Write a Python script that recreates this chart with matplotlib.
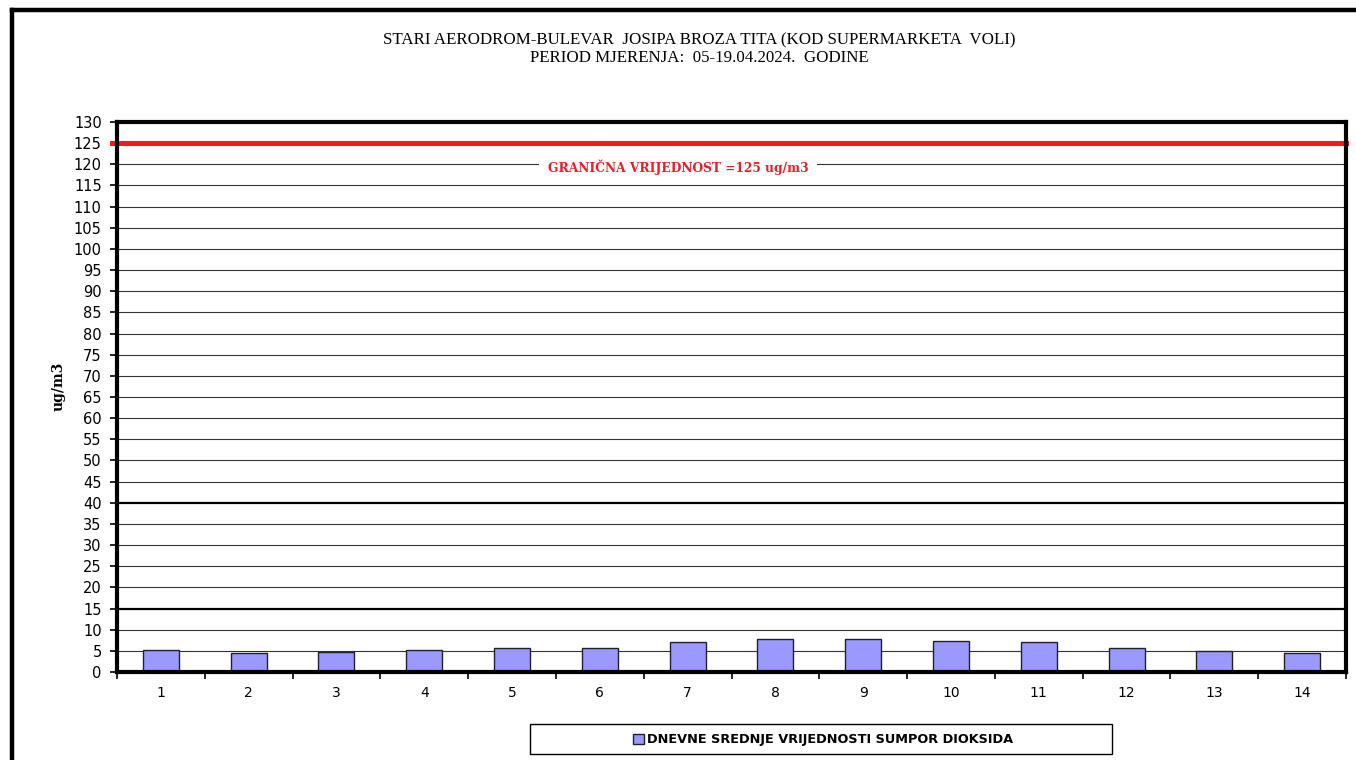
import matplotlib
matplotlib.use("Agg")
import matplotlib.pyplot as plt
from matplotlib.lines import Line2D
from matplotlib.patches import Patch, Rectangle
import numpy as np

days = list(range(1, 15))
so2_values = [5.3, 4.4, 4.8, 5.3, 5.6, 5.6, 7.0, 7.8, 7.8, 7.3, 7.0, 5.6, 5.0, 4.4]
limit_value = 125
y_ticks = list(range(0, 135, 5))
thick_grid = [15, 40]

title = ("STARI AERODROM-BULEVAR  JOSIPA BROZA TITA (KOD SUPERMARKETA  VOLI)\n"
         "PERIOD MJERENJA:  05-19.04.2024.  GODINE")
limit_label = "GRANIČNA VRIJEDNOST =125 ug/m3"
legend_label = "DNEVNE SREDNJE VRIJEDNOSTI SUMPOR DIOKSIDA"

W, H = 1356, 760
fig = plt.figure(figsize=(W / 100, H / 100), dpi=100)
fig.patch.set_facecolor("white")
ax = fig.add_axes([117 / W, 1 - 672 / H, 1229 / W, 550 / H])

# outer frame (only top and left edges visible)
fig.add_artist(Line2D([12 / W, 12 / W], [-0.05, 1 - 10 / H],
                      transform=fig.transFigure, color="black", lw=3.2))
fig.add_artist(Line2D([12 / W, 1.05], [1 - 10 / H, 1 - 10 / H],
                      transform=fig.transFigure, color="black", lw=3.2))

# gridlines
for v in y_ticks[1:-1]:
    if v in thick_grid:
        ax.axhline(v, color="black", lw=1.6, zorder=1)
    elif v != limit_value:
        ax.axhline(v, color="#333333", lw=0.8, zorder=1)

ax.bar(days, so2_values, width=0.41, color="#9999FF", edgecolor="#222222",
       lw=1.0, zorder=3)

ax.axhline(limit_value, color="#EE1C25", lw=3.6, zorder=4, xmin=-0.004,
           clip_on=False)
ax.text(6.89, 119.2, limit_label, color="#EE1C25", fontsize=8.8,
        fontweight="bold", family="DejaVu Serif", ha="center", va="center",
        zorder=5, bbox=dict(facecolor="white", edgecolor="none", pad=6))

ax.set_xlim(0.5, 14.5)
ax.set_ylim(0, 130)
ax.set_yticks(y_ticks)
ax.set_yticklabels([str(v) for v in y_ticks], fontsize=10.5, family="DejaVu Sans")
ax.set_xticks(days)
ax.set_xticklabels([str(d) for d in days], fontsize=10, family="DejaVu Sans")
ax.set_xticks(np.arange(0.5, 15.0, 1.0), minor=True)
ax.tick_params(axis="x", which="major", length=0, pad=10)
ax.tick_params(axis="x", which="minor", length=5, width=1.2)
ax.tick_params(axis="y", length=5, width=1.2, pad=6)

for side in ["top", "bottom", "left", "right"]:
    ax.spines[side].set_linewidth(3.0)
    ax.spines[side].set_zorder(6)

ax.set_ylabel("ug/m3", fontsize=10, fontweight="bold", family="DejaVu Serif")
ax.yaxis.set_label_coords(-0.0415, 0.52)

fig.text(699 / W, 1 - 49 / H, title, ha="center", va="center",
         fontsize=12.2, family="Liberation Serif", linespacing=1.1)

# legend box
fig.add_artist(Rectangle((530 / W, 1 - 754 / H), 582 / W, 30 / H,
                         transform=fig.transFigure, facecolor="white",
                         edgecolor="black", lw=1.0))
handle = Patch(facecolor="#9999FF", edgecolor="#222222", lw=1.0)
leg = fig.legend([handle], [legend_label], loc="center",
                 bbox_to_anchor=(823 / W, 1 - 740 / H),
                 prop=dict(family="DejaVu Sans", size=9.3, weight="bold"),
                 frameon=False, handlelength=0.85,
                 handleheight=0.75, handletextpad=0.25, borderpad=0.2)

fig.savefig("out.png", dpi=100)
